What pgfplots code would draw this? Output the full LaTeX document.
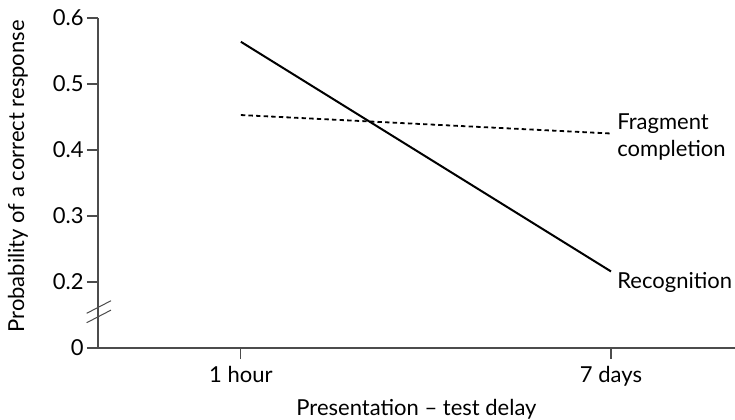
\documentclass[border=0pt]{standalone}
\usepackage{pgfplots}
\pgfplotsset{compat=1.18}
\usepackage{fontspec}
\setmainfont{Lato}
\begin{document}
\begin{tikzpicture}
\fontsize{11}{13}\selectfont
\useasboundingbox (-49pt,-35.5pt) rectangle (318.5pt,174pt);
\begin{axis}[
  scale only axis, width=318.5pt, height=165pt,
  xmin=-0.386, xmax=1.335, ymin=0.1, ymax=0.6,
  axis x line*=bottom, axis y line*=left,
  axis line style={draw=black!70, line width=0.6pt, -},
  xtick={0,1}, xticklabels={1 hour,7 days},
  ytick={0.1,0.2,0.3,0.4,0.5,0.6}, yticklabels={0,0.2,0.3,0.4,0.5,0.6},
  tick align=outside, major tick length=5.5pt,
  tick style={draw=black!70, line width=0.6pt},
  ticklabel style={font=\fontsize{11}{13}\selectfont},
  yticklabel style={inner sep=1.5pt},
  xticklabel style={anchor=base, inner sep=0pt, yshift=-11.5pt},
  clip=false,
]
\addplot[black, line width=1pt] coordinates {(0,0.564) (1,0.216)};
\addplot[black, line width=0.9pt, dash pattern=on 2.2pt off 1.6pt] coordinates {(0,0.453) (1,0.425)};
\node[anchor=west, align=left, inner sep=0pt, font=\fontsize{11}{13.5}\selectfont] at (axis cs:1,0.42) [xshift=3pt] {Fragment\\completion};
\node[anchor=west, inner sep=0pt, font=\fontsize{11}{13}\selectfont] at (axis cs:1,0.199) [xshift=3pt] {Recognition};
\node[anchor=base, inner sep=0pt, font=\fontsize{11}{13}\selectfont] at ([yshift=-33.5pt]rel axis cs:0.5,0) {Presentation – test delay};
\node[rotate=90, anchor=center, inner sep=0pt, font=\fontsize{11}{13}\selectfont] at ([xshift=-40pt]rel axis cs:0,0.52) {Probability of a correct response};
\draw[black!70, line width=0.5pt] ([shift={(-5.65pt,-0.8pt)}]rel axis cs:0,0.11) -- ++(12.15pt,6.3pt);
\draw[black!70, line width=0.5pt] ([shift={(-5.65pt,-5.5pt)}]rel axis cs:0,0.11) -- ++(12.15pt,6.3pt);
\end{axis}
\end{tikzpicture}
\end{document}
